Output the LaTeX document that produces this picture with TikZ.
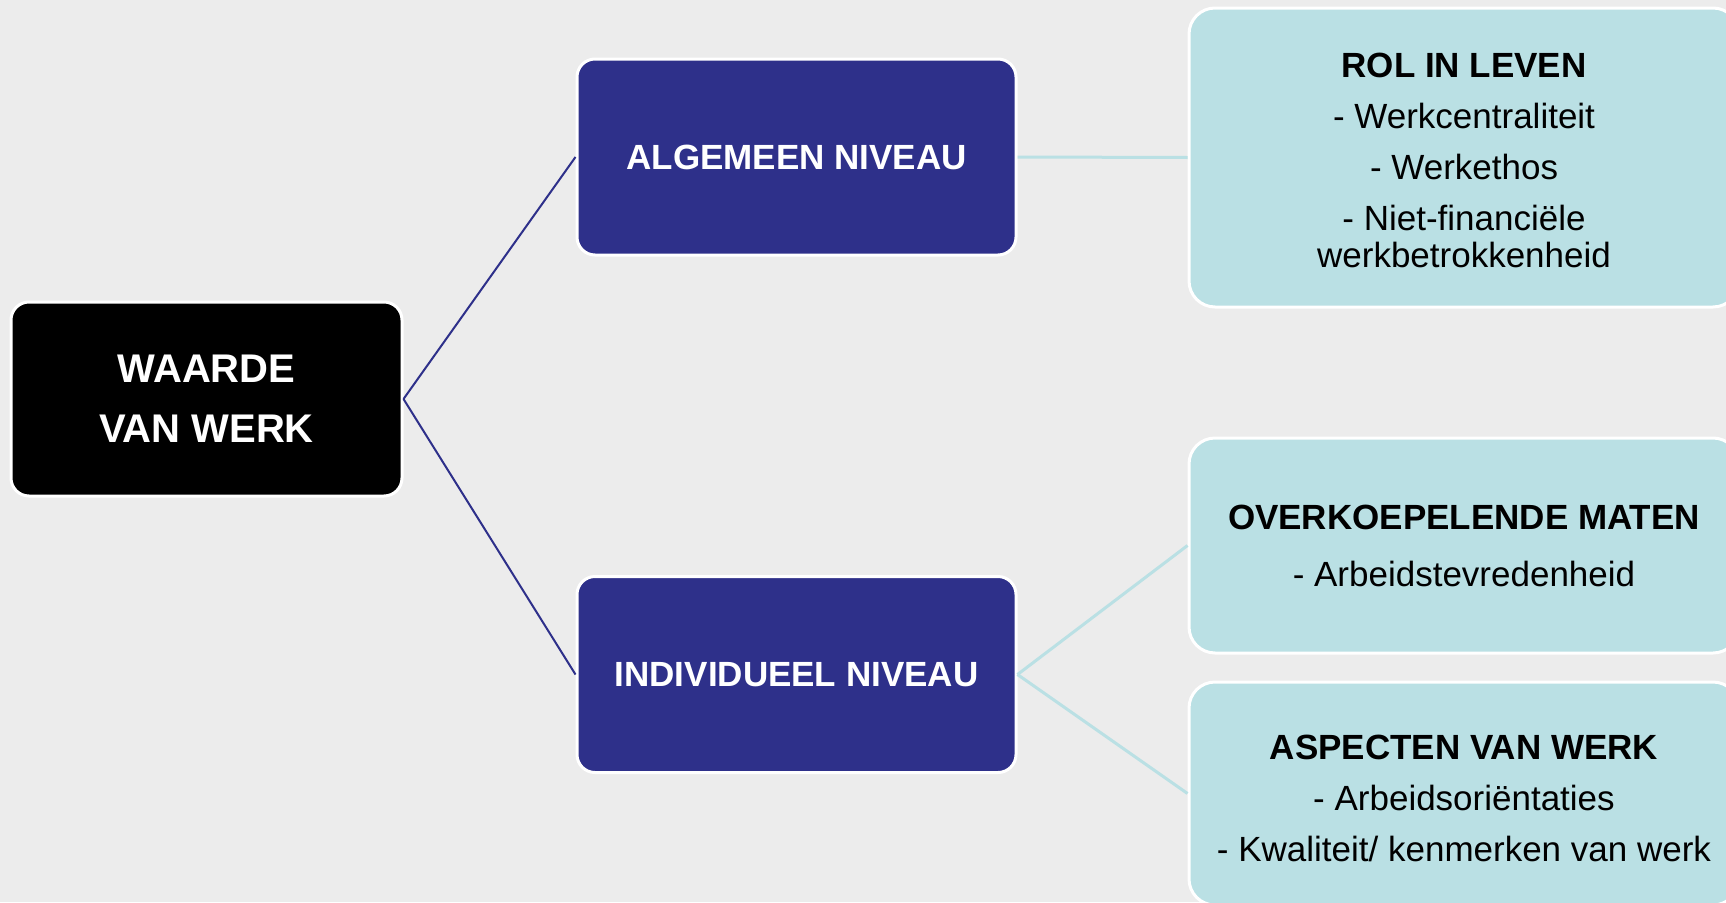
\documentclass[tikz,border=0pt]{standalone}
\usepackage{fontspec}
\setmainfont{Liberation Sans}
\definecolor{bgc}{RGB}{236,236,236}
\definecolor{navy}{RGB}{46,48,138}
\definecolor{teal2}{RGB}{186,224,228}
\begin{document}
\begin{tikzpicture}[x=1pt,y=-1pt,
  box/.style={draw=white, line width=3pt, rounded corners=18pt, inner sep=0pt, align=center},
  rootbox/.style={box, fill=black, text=white, font=\fontsize{40}{60}\selectfont\bfseries},
  midbox/.style={box, fill=navy, text=white, font=\fontsize{35}{40}\selectfont\bfseries, minimum width=439pt, minimum height=196pt},
  leafbox/.style={box, rounded corners=26pt, fill=teal2, minimum width=550pt},
  leaftext/.style={inner sep=0pt, align=center, text=black, font=\fontsize{35}{37}\selectfont},
  darkline/.style={draw=navy, line width=2pt},
  lightline/.style={draw=teal2, line width=3pt}]
\fill[bgc] (0,0) rectangle (1726,902);
\useasboundingbox (0,0) rectangle (1726,902);
\node[rootbox, minimum width=391pt, minimum height=194pt] (root) at (206.5,399) {WAARDE\\VAN WERK};
\node[midbox] (alg) at (796.5,157) {ALGEMEEN NIVEAU};
\node[midbox] (ind) at (796.5,674.5) {INDIVIDUEEL NIVEAU};
\node[leafbox, minimum height=299pt] (rol) at (1464,157.5) {};
\node[leafbox, minimum height=215pt] (ovk) at (1464,545.5) {};
\node[leafbox, minimum height=223pt] (asp) at (1464,793.5) {};
\node[leaftext] (roltxt) at ([yshift=-3pt]rol.center) {\textbf{ROL IN LEVEN}\\[14pt] - Werkcentraliteit\\[14pt] - Werkethos\\[14pt] - Niet-financiële\\ werkbetrokkenheid};
\node[leaftext] (ovktxt) at (ovk.center) {\textbf{OVERKOEPELENDE MATEN}\\[20pt] - Arbeidstevredenheid};
\node[leaftext] (asptxt) at ([yshift=-4.5pt]asp.center) {\textbf{ASPECTEN VAN WERK}\\[14pt] - Arbeidsoriëntaties\\[14pt] - Kwaliteit/ kenmerken van werk};
\draw[darkline] (root.east) -- (alg.west);
\draw[darkline] (root.east) -- (ind.west);
\draw[lightline] (alg.east) -- (rol.west);
\draw[lightline] (ind.east) -- (ovk.west);
\draw[lightline] (ind.east) -- (asp.west);
\end{tikzpicture}
\end{document}
